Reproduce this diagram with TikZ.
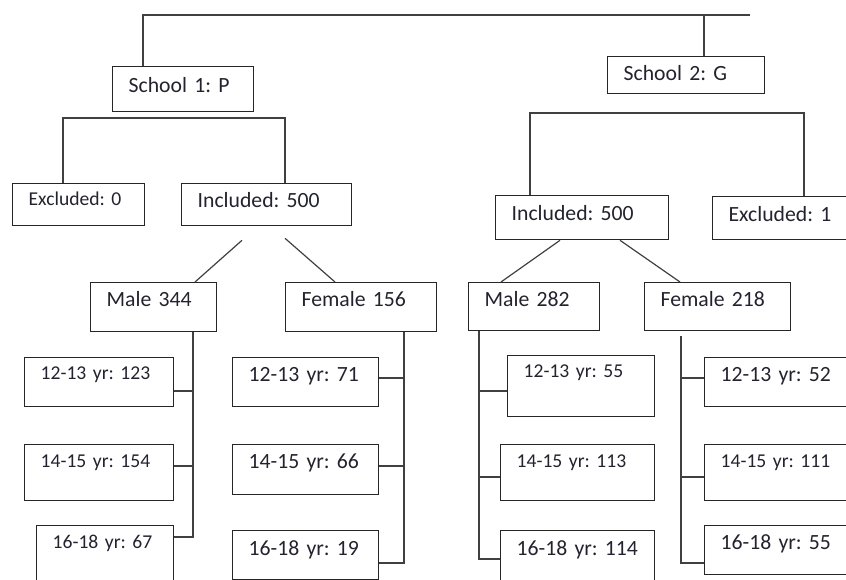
\documentclass[tikz,border=0pt]{standalone}
\usepackage{fontspec}
\setmainfont{Carlito}
\usepackage{tikz}

\definecolor{txtcol}{HTML}{23232F}
\newcommand\cellfont{\fontsize{21.7}{26}\selectfont\frenchspacing}
\newcommand\cellfontsm{\fontsize{19.6}{24}\selectfont\frenchspacing}

\tikzset{
  box/.style n args={3}{draw=black!85, line width=1.3pt, anchor=north west,
    inner xsep=16pt, inner ysep=0pt, align=left, text=txtcol, font=\cellfont,
    text width=#1pt, text height=#2pt, text depth=#3pt},
  smalltext/.style={font=\cellfontsm},
  link/.style={draw=black!75, line width=1.2pt}
}

\begin{document}
\begin{tikzpicture}[x=1pt, y=-1pt]

  \clip (0,0) rectangle (846,580);

  % schools
  \node (sA) [box={109}{26}{19}] at (112,66) {School 1: P};
  \node (sB) [box={125}{24}{13}] at (607,56) {School 2: G};
  \coordinate (topend) at (750,15);

  % excluded / included
  \node (exA) [box={100}{22}{20}, smalltext] at (12,183) {Excluded: 0};
  \node (inA) [box={138}{24}{18}] at (181,183) {Included: 500};
  \node (inB) [box={141}{25}{19}] at (495,195) {Included: 500};
  \node (exB) [box={118}{25}{18}] at (712,196) {Excluded: 1};

  % gender
  \node (maleA) [box={94}{24}{25}] at (90,282) {Male 344};
  \node (femA) [box={119}{24}{25}] at (285,282) {Female 156};
  \node (maleB) [box={99}{24}{24}] at (468,282) {Male 282};
  \node (femB) [box={114}{24}{24}] at (644,282) {Female 218};

  % age groups
  \node (a1) [box={117}{22}{27}, smalltext] at (24,357) {12-13 yr: 123};
  \node (a2) [box={117}{23}{33}, smalltext] at (24,444) {14-15 yr: 154};
  \node (a3) [box={105}{23}{47}, smalltext] at (36,525) {16-18 yr: 67};

  \node (b1) [box={114}{24}{25}] at (232,357) {12-13 yr: 71};
  \node (b2) [box={114}{24}{26}] at (232,444) {14-15 yr: 66};
  \node (b3) [box={114}{25}{24}] at (232,530) {16-18 yr: 19};

  \node (c1) [box={115}{22}{39}, smalltext] at (507,355) {12-13 yr: 55};
  \node (c2) [box={122}{23}{33}, smalltext] at (500,444) {14-15 yr: 113};
  \node (c3) [box={122}{25}{45}] at (500,530) {16-18 yr: 114};

  \node (d1) [box={118}{24}{25}] at (704,357) {12-13 yr: 52};
  \node (d2) [box={118}{23}{33}, smalltext] at (704,444) {14-15 yr: 111};
  \node (d3) [box={118}{24}{25}] at (704,525) {16-18 yr: 55};

  % top level
  \draw [link] ([xshift=31pt]sA.north west) |- (topend);
  \draw [link] ([xshift=97pt]sB.north west) -- ([xshift=97pt]sB.north west |- topend);

  \draw [link] ([xshift=51pt]exA.north west) -- +(0,-65) -| ([xshift=104pt]inA.north west);
  \draw [link] ([xshift=35pt]inB.north west) -- +(0,-82) -| ([xshift=92pt]exB.north west);

  % included -> gender
  \draw [link] ([shift={(61,14)}]inA.south west) -- ([xshift=105pt]maleA.north west);
  \draw [link] ([shift={(104,12)}]inA.south west) -- ([xshift=50pt]femA.north west);
  \draw [link] ([xshift=65pt]inB.south west) -- ([xshift=33pt]maleB.north west);
  \draw [link] ([xshift=125pt]inB.south west) -- ([xshift=36pt]femB.north west);

  % gender -> age
  \draw [link] ([xshift=103pt]maleA.south west) |- ([shift={(0,12)}]a3.north east);
  \draw [link] ([shift={(0,34)}]a1.north east) -- +(20,0);
  \draw [link] ([shift={(0,22)}]a2.north east) -- +(20,0);

  \draw [link] ([xshift=119pt]femA.south west) |- ([shift={(0,33)}]b3.north east);
  \draw [link] ([shift={(0,21)}]b1.north east) -- +(26,0);
  \draw [link] ([shift={(0,22)}]b2.north east) -- +(26,0);

  \draw [link] ([xshift=11pt]maleB.south west) |- ([shift={(0,29)}]c3.north west);
  \draw [link] ([shift={(0,36)}]c1.north west) -- +(-28,0);
  \draw [link] ([shift={(0,33)}]c2.north west) -- +(-21,0);

  \draw [link] ([shift={(37,5)}]femB.south west) |- ([shift={(0,38)}]d3.north west);
  \draw [link] ([shift={(0,21)}]d1.north west) -- +(-23,0);
  \draw [link] ([shift={(0,33)}]d2.north west) -- +(-23,0);

\end{tikzpicture}
\end{document}
